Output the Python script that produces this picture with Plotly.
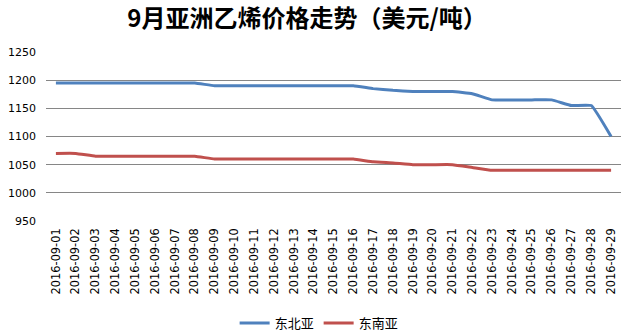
import plotly.graph_objects as go

dates = ["2016-09-%02d" % d for d in range(1, 30)]
northeast = [1195, 1195, 1195, 1195, 1195, 1195, 1195, 1195,
             1190, 1190, 1190, 1190, 1190, 1190, 1190, 1190,
             1185, 1182, 1180, 1180, 1180, 1176,
             1165, 1165, 1165, 1165, 1155, 1155, 1100]
southeast = [1070, 1070, 1065, 1065, 1065, 1065, 1065, 1065,
             1060, 1060, 1060, 1060, 1060, 1060, 1060, 1060,
             1055, 1053, 1050, 1050, 1050, 1045,
             1040, 1040, 1040, 1040, 1040, 1040, 1040]
y_ticks = [950, 1000, 1050, 1100, 1150, 1200, 1250]

fig = go.Figure()
fig.add_trace(go.Scatter(x=dates, y=northeast, name="东北亚", mode="lines",
                         line=dict(color="#4F81BD", width=3, shape="spline", smoothing=0.3)))
fig.add_trace(go.Scatter(x=dates, y=southeast, name="东南亚", mode="lines",
                         line=dict(color="#C0504D", width=3, shape="spline", smoothing=0.3)))

fig.update_layout(
    width=631, height=335,
    margin=dict(l=46, r=10, t=52, b=114, autoexpand=False),
    paper_bgcolor="white", plot_bgcolor="white",
    title=dict(text="<b>9月亚洲乙烯价格走势（美元/吨）</b>", x=307 / 631, xanchor="center",
               y=1 - 19 / 335, yanchor="middle",
               font=dict(family="Noto Sans CJK SC", size=24, color="black")),
    xaxis=dict(type="category", tickangle=-90, showgrid=False, showline=False,
               ticks="", tickfont=dict(family="DejaVu Sans", size=11.4, color="black"),
               ticklabelstandoff=4, automargin=False,
               range=[-0.5, len(dates) - 0.5], fixedrange=True),
    yaxis=dict(range=[950, 1250], tickvals=y_ticks, showgrid=True, gridcolor="#868686",
               gridwidth=1, zeroline=False, showline=False, ticks="",
               ticklabelstandoff=9, automargin=False,
               tickfont=dict(family="DejaVu Sans", size=11, color="black")),
    legend=dict(orientation="h", x=0.475, xanchor="center",
                yref="container", y=1 - 323 / 335, yanchor="middle",
                font=dict(family="Noto Sans CJK SC", size=13, color="black")),
    showlegend=True,
)

fig.write_html("out.html")
